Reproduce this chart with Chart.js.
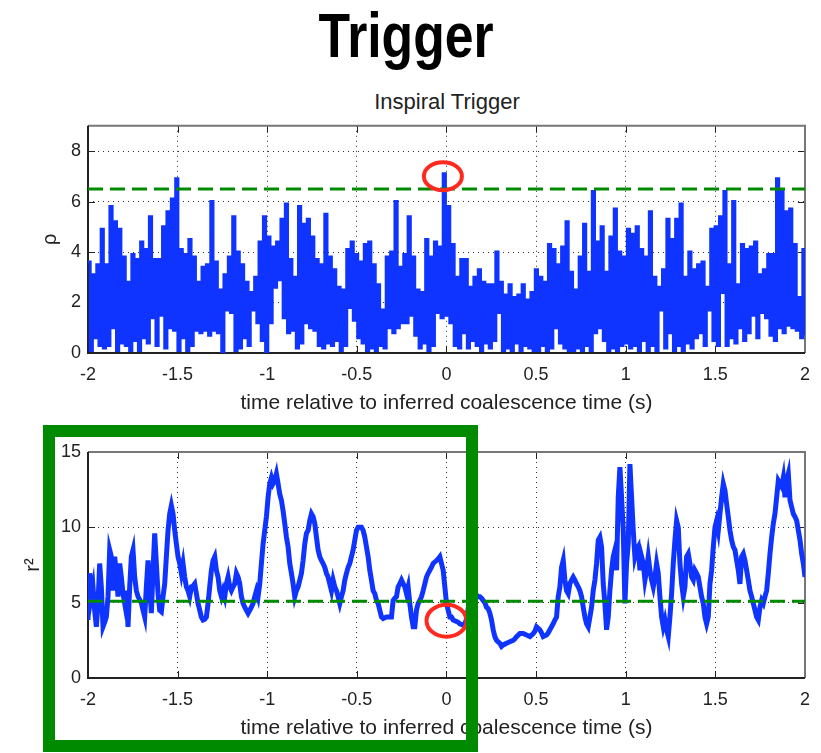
<!DOCTYPE html>
<html>
<head>
<meta charset="utf-8">
<script src="https://cdn.jsdelivr.net/npm/chart.js@4.4.1/dist/chart.umd.min.js"></script>
<style>
  html, body { margin: 0; padding: 0; background: #fff; }
  body { width: 821px; height: 753px; position: relative; overflow: hidden; font-family: 'Liberation Sans', Arial, sans-serif; }
  #title { position: absolute; left: 0; top: 4px; width: 812px; text-align: center; font-weight: bold; font-size: 63px; line-height: 63px; color: #000; transform: scaleX(0.82); }
  #subtitle { position: absolute; left: 0; top: 91px; width: 894px; text-align: center; font-size: 22px; line-height: 22px; color: #222; }
  canvas { position: absolute; left: 0; }
  #js-rhoChart { top: 108px; }
  #js-r2Chart { top: 430px; }
  #highlight { position: absolute; left: 43px; top: 425px; width: 435px; height: 327px; box-sizing: border-box; border: 12px solid #008a00; z-index: 5; }
</style>
</head>
<body>
<div id="title">Trigger</div>
<div id="subtitle">Inspiral Trigger</div>
<canvas id="js-rhoChart" width="821" height="312"></canvas>
<canvas id="js-r2Chart" width="821" height="323"></canvas>
<div id="highlight"></div>
<script>
'use strict'

{
  const colors = {
    signal: '#1034ff',
    threshold: '#008a00',
    mark: '#ff2a1f',
    text: '#222',
    grid: '#333'
  }

  // time axis (s)
  const timeStart = -2
  const timeEnd = 2
  const xTicks = [-2, -1.5, -1, -0.5, 0, 0.5, 1, 1.5, 2]

  // upper panel: SNR rho
  const rhoTicks = [0, 2, 4, 6, 8]
  const rhoThreshold = 6.5
  const rhoValues = [
    3.6, 0.1, 3.1, 0.6, 3.5, 0.3, 4.9, 0.2, 3.5, 0.3, 5.8, 1.0, 5.2, 0.1, 4.9, 0.4,
    3.8, 0.3, 2.8, 0.1, 3.9, 0.5, 3.7, 0.1, 4.4, 0.6, 4.1, 0.4, 5.4, 1.4, 3.7, 0.3,
    3.7, 1.5, 5.0, 0.2, 5.6, 1.0, 6.1, 0.9, 6.9, 0.1, 4.1, 0.6, 3.9, 0.1, 4.5, 0.3,
    3.8, 0.9, 2.8, 0.8, 3.4, 0.9, 3.5, 0.7, 6.0, 0.9, 3.6, 0.8, 2.5, 0.0, 3.1, 1.7,
    3.8, 1.6, 5.4, 0.1, 4.0, 0.2, 3.5, 0.6, 2.8, 0.3, 2.4, 1.7, 3.0, 1.2, 4.4, 0.5,
    5.4, 0.0, 4.6, 1.2, 4.2, 2.6, 4.4, 2.9, 5.3, 1.4, 5.9, 0.8, 3.7, 0.9, 3.0, 0.2,
    5.8, 0.4, 5.1, 1.2, 5.3, 1.0, 4.6, 0.9, 3.7, 0.3, 3.5, 0.2, 5.5, 0.4, 3.8, 0.3,
    3.3, 0.5, 2.6, 0.1, 2.5, 0.3, 4.1, 1.8, 4.4, 1.3, 3.9, 0.6, 3.6, 0.4, 4.3, 0.1,
    4.4, 0.2, 3.5, 0.1, 2.7, 0.3, 1.7, 0.2, 3.8, 1.0, 4.0, 0.8, 6.0, 1.0, 3.4, 1.2,
    3.9, 1.2, 5.4, 1.5, 3.8, 0.7, 2.5, 0.2, 2.4, 0.4, 4.5, 0.1, 3.8, 0.3, 4.4, 1.6,
    4.2, 1.4, 7.1, 1.5, 5.8, 1.2, 4.3, 0.3, 3.0, 0.2, 3.7, 0.8, 3.7, 0.2, 2.6, 0.5,
    3.0, 0.3, 3.3, 0.1, 2.8, 0.4, 2.7, 0.2, 2.7, 0.5, 4.0, 1.6, 2.8, 0.1, 2.3, 0.2,
    2.7, 0.1, 2.2, 0.4, 2.3, 0.1, 2.7, 0.3, 2.1, 0.2, 2.4, 0.1, 3.3, 0.1, 3.0, 0.3,
    2.8, 0.1, 4.3, 0.2, 4.1, 1.0, 3.5, 0.4, 4.2, 0.2, 5.2, 0.1, 3.2, 0.1, 2.5, 0.2,
    3.8, 0.1, 5.1, 0.3, 3.2, 0.1, 6.4, 0.8, 4.4, 1.0, 5.0, 0.5, 3.2, 0.1, 4.6, 0.2,
    5.7, 0.1, 4.0, 0.3, 3.8, 0.4, 4.9, 0.2, 4.7, 0.3, 5.0, 0.1, 4.1, 0.5, 3.8, 0.1,
    5.6, 0.3, 3.0, 0.1, 2.6, 1.7, 3.3, 0.2, 5.3, 0.8, 4.5, 0.1, 5.3, 0.3, 5.9, 0.1,
    3.0, 0.4, 4.0, 0.2, 3.3, 0.6, 3.5, 0.8, 3.6, 0.3, 2.6, 1.7, 4.9, 0.5, 5.0, 0.3,
    5.4, 2.4, 6.4, 0.3, 3.5, 0.6, 6.0, 0.4, 2.7, 1.0, 4.3, 0.5, 4.1, 0.8, 4.2, 1.5,
    4.4, 0.6, 3.1, 1.6, 3.3, 1.4, 3.9, 0.7, 3.9, 0.5, 6.9, 1.0, 6.4, 0.8, 5.6, 1.1,
    5.7, 1.0, 4.3, 0.9, 2.2, 0.6, 4.1, 0.7
  ]

  // lower panel: chi-square r^2
  const r2Ticks = [0, 5, 10, 15]
  const r2Threshold = 5.1
  const r2Values = [
    3.85, 6.95, 5.4, 6.05, 4.5, 3.4, 4.95, 7.6, 6.05, 3.4, 3.7, 4.05, 5.4, 8.5, 8.05, 5.8,
    8.05, 6.95, 5.4, 7.6, 6.7, 5.6, 4.95, 5.8, 3.4, 6.05, 8.05, 8.5, 6.7, 5.8, 5.4, 5.2,
    5.0, 4.5, 4.05, 6.05, 7.8, 6.05, 4.3, 7.15, 9.6, 7.6, 5.6, 4.5, 4.4, 5.4, 6.25, 8.05,
    9.8, 10.9, 11.45, 10.9, 9.8, 8.9, 8.05, 7.6, 6.95, 7.6, 6.7, 6.05, 5.8, 5.4, 6.05, 6.1,
    6.25, 5.6, 4.95, 4.5, 4.05, 3.85, 3.9, 4.05, 4.95, 6.05, 7.15, 7.8, 8.05, 7.15, 6.7, 5.8,
    5.4, 5.8, 5.4, 6.25, 6.7, 6.05, 5.8, 6.05, 6.25, 6.95, 6.7, 6.25, 5.4, 4.95, 4.7, 4.5,
    4.3, 4.5, 4.7, 4.95, 5.4, 5.8, 5.4, 6.25, 7.6, 8.9, 9.8, 10.7, 12.0, 12.9, 13.3, 12.9,
    13.1, 13.55, 12.9, 12.2, 11.8, 11.1, 10.25, 9.35, 8.7, 7.6, 6.95, 6.25, 5.4, 5.8, 6.05, 6.5,
    6.95, 7.8, 8.9, 9.6, 9.8, 10.45, 10.9, 10.7, 10.25, 9.35, 8.5, 8.05, 7.8, 7.6, 7.35, 6.95,
    6.7, 6.25, 5.8, 6.5, 6.05, 5.8, 5.4, 4.95, 5.4, 5.8, 6.5, 6.95, 7.35, 7.6, 8.05, 8.5,
    9.15, 9.8, 10.0, 10.0, 10.0, 9.8, 9.35, 8.7, 8.05, 7.15, 6.5, 5.8, 5.6, 5.15, 4.95, 4.5,
    4.05, 3.95, 4.0, 4.05, 4.05, 4.05, 4.05, 5.15, 5.3, 5.4, 6.05, 6.25, 6.5, 6.25, 6.05, 5.6,
    6.05, 4.95, 4.05, 3.4, 3.4, 4.5, 4.95, 5.15, 5.4, 5.8, 6.25, 6.7, 6.95,
    7.15, 7.35, 7.6, 7.7, 7.8, 7.9, 8.05, 7.6, 7.15, 6.05, 4.95, 4.5, 4.05, 4.05, 3.85, 3.8,
    3.75, 3.7, 3.6, 3.55, 3.5, 3.6, 3.9, 4.6, 5.2, 5.5, 5.4, 5.6, 5.5, 5.4, 5.4, 5.3,
    5.15, 5.0, 4.7, 4.6, 4.3, 3.85, 3.2, 2.75, 2.5, 2.4, 2.3, 2.1, 2.2, 2.25, 2.3, 2.35,
    2.4, 2.45, 2.5, 2.6, 2.75, 2.85, 2.95, 2.95, 2.95, 2.9, 2.85, 2.8, 2.75, 2.85, 2.95, 3.1,
    3.4, 3.3, 3.2, 3.0, 2.75, 2.8, 2.85, 3.0, 3.2, 3.4, 3.6, 3.85, 4.05, 5.4, 6.05, 7.35,
    7.8, 6.5, 5.8, 5.6, 6.25, 6.5, 6.7, 6.5, 6.25, 6.05, 5.8, 5.4, 4.7, 4.05, 3.6, 3.4,
    4.05, 4.7, 5.8, 6.5, 7.6, 9.15, 9.35, 8.7, 6.25, 4.95, 3.2, 4.05, 5.8, 7.15, 8.05, 8.5,
    7.15, 12.0, 14.0, 12.0, 9.8, 4.95, 7.6, 8.9, 14.2, 12.0, 9.8, 8.05, 8.5, 8.7, 7.15, 8.05,
    7.6, 6.5, 7.15, 8.05, 7.15, 6.5, 6.05, 6.7, 7.6, 6.95, 5.4, 4.05, 3.4, 3.85, 3.2, 2.75,
    4.05, 5.6, 7.6, 9.15, 10.45, 10.0, 7.6, 6.25, 5.4, 6.05, 8.05, 8.25, 7.6, 6.7, 6.5, 7.15,
    6.95, 6.7, 6.05, 5.4, 4.95, 4.05, 3.6, 4.05, 6.25, 7.15, 8.7, 10.0, 10.45, 9.8, 10.9, 12.0,
    12.9, 12.45, 11.55, 10.7, 9.8, 9.15, 8.7, 8.5, 7.8, 7.15, 6.25, 8.05, 8.25, 7.8, 7.15, 6.5,
    5.8, 5.4, 4.95, 4.5, 4.05, 3.85, 4.7, 5.15, 4.95, 5.4, 5.8, 6.95, 8.25, 9.35, 10.25, 10.9,
    12.0, 13.1, 12.9, 12.7, 13.3, 12.0, 13.1, 13.55, 11.8, 11.35, 10.9, 10.7, 10.45, 9.8, 9.15, 8.25,
    7.6, 6.7
  ]

  // annotations (data units)
  const rhoMark = { x: -0.02, y: 7.0 }
  const r2Mark = { x: 0.0, y: 3.8 }

  const fontFamily = "'Liberation Sans', Arial, sans-serif"
  Chart.defaults.font.family = fontFamily
  Chart.defaults.color = colors.text

  // samples are evenly spaced over the time window
  const sampleTimes = (values) => values.map((_, i) => timeStart + (timeEnd - timeStart) * i / (values.length - 1))
  const toPoints = (values) => {
    const times = sampleTimes(values)
    return values.map((v, i) => ({ x: times[i], y: v }))
  }

  // matlab style box: solid frame with inward tick marks
  const boxPlugin = {
    id: 'box',
    beforeDatasetsDraw(chart) {
      const { ctx, chartArea: { left, right, top, bottom }, scales: { x, y } } = chart
      ctx.save()
      ctx.strokeStyle = colors.text
      ctx.lineWidth = 1
      ctx.beginPath()
      x.ticks.forEach(t => {
        const px = Math.round(x.getPixelForValue(t.value)) + 0.5
        ctx.moveTo(px, bottom); ctx.lineTo(px, bottom - 7)
        ctx.moveTo(px, top); ctx.lineTo(px, top + 7)
      })
      y.ticks.forEach(t => {
        const py = Math.round(y.getPixelForValue(t.value)) + 0.5
        ctx.moveTo(left, py); ctx.lineTo(left + 7, py)
        ctx.moveTo(right, py); ctx.lineTo(right - 7, py)
      })
      ctx.stroke()

      ctx.lineWidth = 2
      ctx.strokeStyle = '#777'
      ctx.beginPath()
      ctx.moveTo(left, top); ctx.lineTo(right, top); ctx.lineTo(right, bottom)
      ctx.stroke()
      ctx.strokeStyle = '#222'
      ctx.beginPath()
      ctx.moveTo(left, top); ctx.lineTo(left, bottom); ctx.lineTo(right, bottom)
      ctx.stroke()
      ctx.restore()
    }
  }

  // red ring round the trigger
  const markPlugin = {
    id: 'mark',
    afterDraw(chart, args, options) {
      const { ctx, scales: { x, y } } = chart
      ctx.save()
      ctx.strokeStyle = colors.mark
      ctx.lineWidth = 4
      ctx.beginPath()
      ctx.ellipse(x.getPixelForValue(options.x), y.getPixelForValue(options.y), options.rx, options.ry, 0, 0, Math.PI * 2)
      ctx.stroke()
      ctx.restore()
    }
  }

  const createPanel = (canvasId, cfg) => {
    const data = {
      datasets: [{
        data: toPoints(cfg.values),
        borderColor: colors.signal,
        borderWidth: cfg.lineWidth,
        stepped: cfg.stepped,
        pointRadius: 0,
        tension: 0,
        order: 2
      }, {
        data: [{ x: timeStart, y: cfg.threshold }, { x: timeEnd, y: cfg.threshold }],
        borderColor: colors.threshold,
        borderWidth: 3,
        borderDash: [15, 7],
        pointRadius: 0,
        order: 1
      }]
    }

    const config = {
      type: 'line',
      data: data,
      options: {
        responsive: false,
        animation: false,
        layout: { padding: { top: cfg.padTop, right: 14, left: 0, bottom: 0 } },
        plugins: {
          legend: { display: false },
          tooltip: { enabled: false },
          mark: cfg.mark
        },
        scales: {
          x: {
            type: 'linear',
            min: timeStart,
            max: timeEnd,
            afterBuildTicks: (scale) => { scale.ticks = xTicks.map(v => ({ value: v })) },
            afterFit: (scale) => { scale.height = cfg.xAxisHeight },
            grid: { color: colors.grid, lineWidth: 1, drawTicks: false },
            border: { display: false, dash: [1, 4] },
            ticks: { font: { size: 18 }, padding: 11, maxRotation: 0, autoSkip: false, callback: (v) => String(v) },
            title: {
              display: true,
              text: 'time relative to inferred coalescence time (s)',
              font: { size: 21 },
              padding: { top: 0, bottom: cfg.xTitlePad }
            }
          },
          y: {
            min: 0,
            max: cfg.yMax,
            afterBuildTicks: (scale) => { scale.ticks = cfg.yTicks.map(v => ({ value: v })) },
            afterFit: (scale) => { scale.width = 88 },
            grid: { color: colors.grid, lineWidth: 1, drawTicks: false },
            border: { display: false, dash: [1, 4] },
            ticks: { font: { size: 18 }, padding: 7, autoSkip: false, callback: (v) => String(v) },
            title: {
              display: true,
              text: cfg.yTitle,
              font: { size: 20 },
              padding: { top: cfg.yTitlePad, bottom: 0 }
            }
          }
        }
      },
      plugins: [boxPlugin, markPlugin]
    }

    return new Chart(document.getElementById(canvasId), config)
  }

  /**
   * rho panel
   */
  createPanel('js-rhoChart', {
    values: rhoValues,
    threshold: rhoThreshold,
    yTicks: rhoTicks,
    yMax: 9,
    yTitle: 'ρ',
    yTitlePad: 38,
    padTop: 17,
    xAxisHeight: 67,
    xTitlePad: 4,
    lineWidth: 3,
    stepped: true,
    mark: { x: rhoMark.x, y: rhoMark.y, rx: 19, ry: 14 }
  })

  /**
   * r^2 panel
   */
  createPanel('js-r2Chart', {
    values: r2Values,
    threshold: r2Threshold,
    yTicks: r2Ticks,
    yMax: 15,
    yTitle: 'r²',
    yTitlePad: 21,
    padTop: 22,
    xAxisHeight: 75,
    xTitlePad: 12,
    lineWidth: 5,
    stepped: false,
    mark: { x: r2Mark.x, y: r2Mark.y, rx: 20, ry: 16 }
  })
}
</script>
</body>
</html>
